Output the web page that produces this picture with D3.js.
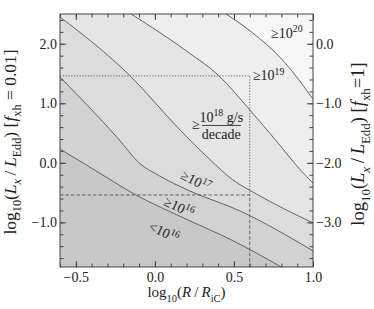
<!DOCTYPE html>
<html>
<head>
<meta charset="utf-8">
<script src="https://cdn.jsdelivr.net/npm/d3@7"></script>
<style>
  body { margin: 0; background: #fff; }
  svg text { font-family: "Liberation Serif", "DejaVu Serif", serif; fill: #222; }
</style>
</head>
<body>
<div class="svg"></div>
<script>
// axis ranges and ticks
var xDomain = [-0.6, 1.0];
var yDomainLeft = [-1.75, 2.5];
var yDomainRight = [-3.75, 0.5];
var xTicks = [-0.5, 0.0, 0.5, 1.0];
var yTicksLeft = [-1.0, 0.0, 1.0, 2.0];
var yTicksRight = [-3.0, -2.0, -1.0, 0.0];

// contour boundaries, [log10(R/RiC), log10(Lx/LEdd) at fxh=0.01]
var c16 = [[-0.60, 0.23], [-0.40, -0.09], [-0.12, -0.54], [0.21, -0.96], [0.48, -1.29], [0.80, -1.75]];
var c17 = [[-0.60, 1.44], [-0.23, 0.40], [-0.10, 0.0], [0.03, -0.22], [0.21, -0.46], [0.54, -0.81], [1.00, -1.48]];
var c18 = [[-0.60, 2.45], [-0.16, 1.47], [0.16, 0.55], [0.35, 0.05], [0.49, -0.28], [0.64, -0.52], [1.00, -1.01]];
var c19 = [[-0.15, 2.50], [0.21, 1.86], [0.40, 1.475], [0.60, 0.89], [0.78, 0.33], [0.92, -0.12], [1.00, -0.34]];
var c20 = [[0.45, 2.50], [0.61, 2.20], [0.82, 1.69], [1.00, 1.07]];
var contours = [c16, c17, c18, c19, c20];
var shades = ["#c8c8c8", "#d2d2d2", "#dcdcdc", "#e5e5e5", "#eeeeee", "#f7f7f7"];

// guide lines
var guideX = 0.6;
var dottedY = 1.46;
var dashedY = -0.54;

var width = 374, height = 309;
var pLeft = 60, pRight = 313, pTop = 14, pBottom = 267;

var x = d3.scaleLinear().domain(xDomain).range([pLeft, pRight]);
var yL = d3.scaleLinear().domain(yDomainLeft).range([pBottom, pTop]);
var yR = d3.scaleLinear().domain(yDomainRight).range([pBottom, pTop]);

var svg = d3.select("div.svg").append("svg")
    .attr("width", width)
    .attr("height", height);

svg.append("clipPath").attr("id", "plot")
    .append("rect")
    .attr("x", pLeft).attr("y", pTop)
    .attr("width", pRight - pLeft).attr("height", pBottom - pTop);

var plot = svg.append("g").attr("clip-path", "url(#plot)");

var line = d3.line()
    .x(function (d) { return x(d[0]); })
    .y(function (d) { return yL(d[1]); })
    .curve(d3.curveMonotoneX);

// background = lowest band
plot.append("rect")
    .attr("x", pLeft).attr("y", pTop)
    .attr("width", pRight - pLeft).attr("height", pBottom - pTop)
    .style("fill", shades[0]);

// each band fills everything above-right of its boundary
contours.forEach(function (c, i) {
    var corner = "L" + x(xDomain[1]) + "," + yL(yDomainLeft[0]) +
        "L" + x(xDomain[1]) + "," + yL(yDomainLeft[1]) +
        "L" + x(xDomain[0]) + "," + yL(yDomainLeft[1]) + "Z";
    plot.append("path")
        .attr("d", line(c) + corner)
        .style("fill", shades[i + 1]);
});

contours.forEach(function (c) {
    plot.append("path")
        .attr("d", line(c))
        .style("fill", "none")
        .style("stroke", "#555")
        .style("stroke-width", 0.9);
});

// dotted and dashed guides
plot.append("path")
    .attr("d", "M" + x(xDomain[0]) + "," + yL(dottedY) + "H" + x(guideX) + "V" + yL(dashedY))
    .style("fill", "none").style("stroke", "#555").style("stroke-width", 0.9)
    .style("stroke-dasharray", "1.2,1.6");
plot.append("path")
    .attr("d", "M" + x(xDomain[0]) + "," + yL(dashedY) + "H" + x(guideX) + "V" + yL(yDomainLeft[0]))
    .style("fill", "none").style("stroke", "#555").style("stroke-width", 0.9)
    .style("stroke-dasharray", "3.5,2");

// axes, ticks inward on all sides
var fmt = d3.format(".1f");
var xMinor = d3.range(-6, 11).map(function (v) { return v / 10; });
var yMinorL = d3.range(-8, 13).map(function (v) { return v / 5; }).filter(function (v) { return v >= -1.75; });
var yMinorR = yMinorL.map(function (v) { return v - 2; });

function styleAxis(g) {
    g.select(".domain").remove();
    g.selectAll("line").style("stroke", "#444");
    g.selectAll("text").style("font-size", "14px").style("fill", "#222")
        .style("font-family", "'Liberation Serif', serif");
}

svg.append("g").attr("transform", "translate(0," + pBottom + ")")
    .call(d3.axisBottom(x).tickValues(xMinor).tickSizeInner(-3.5).tickFormat("")).call(styleAxis);
svg.append("g").attr("transform", "translate(0," + pBottom + ")")
    .call(d3.axisBottom(x).tickValues(xTicks).tickSizeInner(-6).tickPadding(5).tickFormat(fmt)).call(styleAxis);
svg.append("g").attr("transform", "translate(0," + pTop + ")")
    .call(d3.axisTop(x).tickValues(xMinor).tickSizeInner(-3.5).tickFormat("")).call(styleAxis);
svg.append("g").attr("transform", "translate(0," + pTop + ")")
    .call(d3.axisTop(x).tickValues(xTicks).tickSizeInner(-6).tickFormat("")).call(styleAxis);

svg.append("g").attr("transform", "translate(" + pLeft + ",0)")
    .call(d3.axisLeft(yL).tickValues(yMinorL).tickSizeInner(-3.5).tickFormat("")).call(styleAxis);
svg.append("g").attr("transform", "translate(" + pLeft + ",0)")
    .call(d3.axisLeft(yL).tickValues(yTicksLeft).tickSizeInner(-6).tickPadding(3).tickFormat(fmt)).call(styleAxis);
svg.append("g").attr("transform", "translate(" + pRight + ",0)")
    .call(d3.axisRight(yR).tickValues(yMinorR).tickSizeInner(-3.5).tickFormat("")).call(styleAxis);
svg.append("g").attr("transform", "translate(" + pRight + ",0)")
    .call(d3.axisRight(yR).tickValues(yTicksRight).tickSizeInner(-6).tickPadding(3).tickFormat(fmt)).call(styleAxis);

svg.append("rect")
    .attr("x", pLeft).attr("y", pTop)
    .attr("width", pRight - pLeft).attr("height", pBottom - pTop)
    .style("fill", "none").style("stroke", "#444").style("stroke-width", 1);

// rich text helper: parts with optional sub / sup / italic
function rich(sel, parts, size) {
    var shift = 0;
    parts.forEach(function (p) {
        var want = p.sub ? size * 0.3 : (p.sup ? -size * 0.38 : 0);
        var ts = sel.append("tspan").text(p.t)
            .attr("dy", want - shift)
            .style("font-size", (p.sub || p.sup ? size * 0.7 : size) + "px");
        if (p.i) ts.style("font-style", "italic");
        shift = want;
    });
}

var titleLeft = [{t: "log"}, {t: "10", sub: 1}, {t: "("}, {t: "L", i: 1}, {t: "x", sub: 1, i: 1},
    {t: "\u2009/\u2009"}, {t: "L", i: 1}, {t: "Edd", sub: 1}, {t: ") ["}, {t: "f", i: 1}, {t: "xh", sub: 1}, {t: " = 0.01]"}];
var titleRight = [{t: "log"}, {t: "10", sub: 1}, {t: "("}, {t: "L", i: 1}, {t: "x", sub: 1, i: 1},
    {t: "\u2009/\u2009"}, {t: "L", i: 1}, {t: "Edd", sub: 1}, {t: ") ["}, {t: "f", i: 1}, {t: "xh", sub: 1}, {t: "=1]"}];
var titleX = [{t: "log"}, {t: "10", sub: 1}, {t: "("}, {t: "R", i: 1}, {t: "\u2009/\u2009"}, {t: "R", i: 1}, {t: "iC", sub: 1}, {t: ")"}];

rich(svg.append("text").attr("text-anchor", "middle")
    .attr("transform", "translate(16,142) rotate(-90)"), titleLeft, 17.5);
rich(svg.append("text").attr("text-anchor", "middle")
    .attr("transform", "translate(364,144) rotate(-90)"), titleRight, 18.5);
rich(svg.append("text").attr("text-anchor", "middle")
    .attr("x", (pLeft + pRight) / 2).attr("y", 297), titleX, 15);

// band labels
var ann = svg.append("g");
rich(ann.append("text").attr("x", x(0.735)).attr("y", yL(2.10)),
    [{t: "\u226510"}, {t: "20", sup: 1}], 14);
rich(ann.append("text").attr("x", x(0.62)).attr("y", yL(1.39)),
    [{t: "\u226510"}, {t: "19", sup: 1}], 14);
ann.append("text").attr("x", x(0.235)).attr("y", yL(0.56)).style("font-size", "14px").text("\u2265");
rich(ann.append("text").attr("x", x(0.42)).attr("y", yL(0.69)).attr("text-anchor", "middle"),
    [{t: "10"}, {t: "18", sup: 1}, {t: " g/s"}], 14);
ann.append("line")
    .attr("x1", x(0.298)).attr("x2", x(0.545))
    .attr("y1", yL(0.627)).attr("y2", yL(0.627))
    .style("stroke", "#333").style("stroke-width", 0.9);
ann.append("text").attr("x", x(0.42)).attr("y", yL(0.405)).attr("text-anchor", "middle")
    .style("font-size", "14px").text("decade");

var rotLabels = [
    {x: 0.26, y: -0.30, r: 27, pre: "\u226510", sup: "17"},
    {x: 0.153, y: -0.74, r: 25, pre: "\u226510", sup: "16"},
    {x: 0.058, y: -1.16, r: 25, pre: "<10", sup: "16"}
];
rotLabels.forEach(function (d) {
    rich(ann.append("text").attr("text-anchor", "middle")
        .attr("transform", "translate(" + x(d.x) + "," + yL(d.y) + ") rotate(" + d.r + ")")
        .attr("y", 5), [{t: d.pre}, {t: d.sup, sup: 1}], 14);
});
</script>
</body>
</html>
